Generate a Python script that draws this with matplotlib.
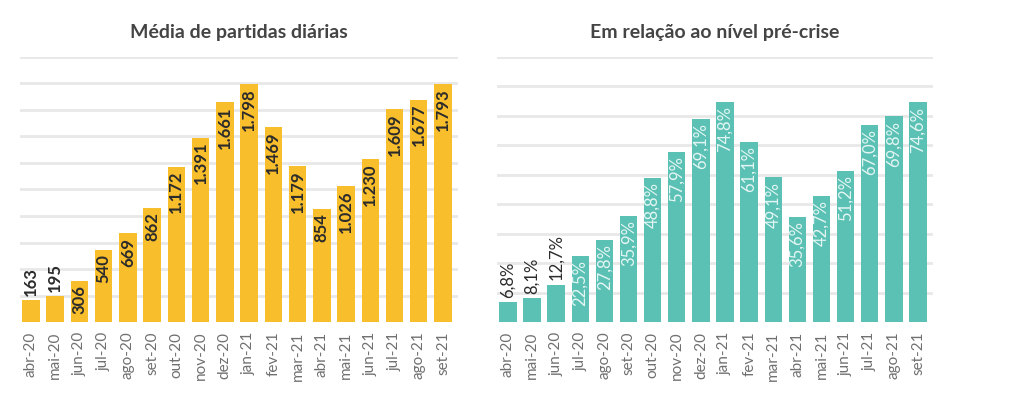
import matplotlib.pyplot as plt

# Dados
meses = ['abr-20', 'mai-20', 'jun-20', 'jul-20', 'ago-20', 'set-20', 'out-20', 'nov-20', 'dez-20',
         'jan-21', 'fev-21', 'mar-21', 'abr-21', 'mai-21', 'jun-21', 'jul-21', 'ago-21', 'set-21']
partidas = [163, 195, 306, 540, 669, 862, 1172, 1391, 1661,
            1798, 1469, 1179, 854, 1026, 1230, 1609, 1677, 1793]
pct_precrise = [6.8, 8.1, 12.7, 22.5, 27.8, 35.9, 48.8, 57.9, 69.1,
                74.8, 61.1, 49.1, 35.6, 42.7, 51.2, 67.0, 69.8, 74.6]

AMARELO = '#F8BE2C'
VERDE = '#5CC1B5'
CINZA_GRID = '#E8E8E8'

plt.rcParams['font.family'] = ['Lato', 'DejaVu Sans']

fig = plt.figure(figsize=(10.24, 4.11), dpi=100)
ax1 = fig.add_axes([20 / 1024, 89 / 411, 438 / 1024, 265 / 411])
ax2 = fig.add_axes([497 / 1024, 89 / 411, 436 / 1024, 265 / 411])

x = list(range(len(meses)))


def estilo(ax, ymax, passo):
    ax.set_ylim(0, ymax)
    ax.set_xlim(-0.45, len(meses) - 0.38)
    ax.set_yticks([v * passo for v in range(1, int(ymax / passo) + 1)])
    ax.yaxis.grid(True, color=CINZA_GRID, linewidth=2)
    ax.set_axisbelow(True)
    for s in ax.spines.values():
        s.set_visible(False)
    ax.tick_params(axis='y', left=False, labelleft=False)
    ax.tick_params(axis='x', length=0, pad=7)
    ax.set_xticks(x)
    ax.set_xticklabels(meses, rotation=90, color='#707070', fontsize=11)


# Gráfico 1: média de partidas diárias
ax1.bar(x, partidas, width=0.72, color=AMARELO, zorder=2)
estilo(ax1, 2000, 200)
for i, v in enumerate(partidas):
    txt = f'{v:,}'.replace(',', '.')
    if v < 250:
        ax1.annotate(txt, (i, v), xytext=(0, 3), textcoords='offset points',
                     rotation=90, ha='center', va='bottom', fontsize=12,
                     fontweight='bold', color='#2b2b2b')
    else:
        ax1.annotate(txt, (i, v), xytext=(0, -3), textcoords='offset points',
                     rotation=90, ha='center', va='top', fontsize=12,
                     fontweight='bold', color='#2b2b2b')
ax1.set_title('Média de partidas diárias', fontsize=14, fontweight='bold',
              color='#444444', pad=14)

# Gráfico 2: em relação ao nível pré-crise
ax2.bar(x, pct_precrise, width=0.72, color=VERDE, zorder=2)
estilo(ax2, 90, 10)
for i, v in enumerate(pct_precrise):
    txt = f'{v:.1f}%'.replace('.', ',')
    if v < 15:
        ax2.annotate(txt, (i, v), xytext=(0, 3), textcoords='offset points',
                     rotation=90, ha='center', va='bottom', fontsize=12,
                     color='#2b2b2b')
    else:
        ax2.annotate(txt, (i, v), xytext=(0, -3), textcoords='offset points',
                     rotation=90, ha='center', va='top', fontsize=12,
                     color='#E4F6F3')
ax2.set_title('Em relação ao nível pré-crise', fontsize=14, fontweight='bold',
              color='#444444', pad=14)

fig.savefig('out.png', dpi=100)
